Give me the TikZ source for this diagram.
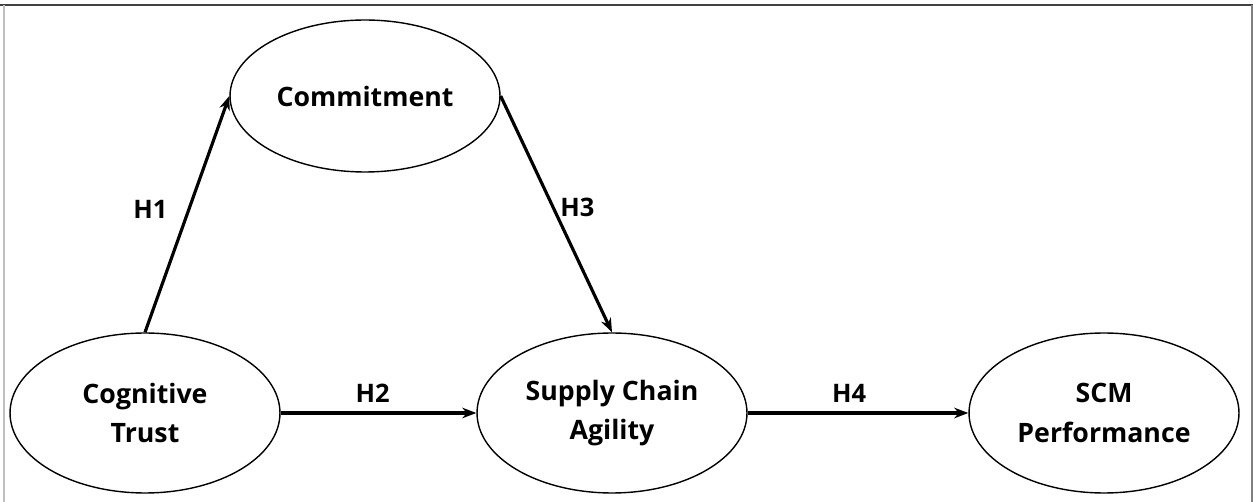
\documentclass[tikz,border=0pt]{standalone}
\usepackage{fontspec}
\setmainfont{Open Sans}
\usetikzlibrary{shapes.geometric,arrows.meta}

\tikzset{
  construct/.style={draw, ellipse, line width=0.8pt, inner sep=0pt,
    minimum width=5.4cm, minimum height=3.2cm, align=center,
    font=\fontsize{15.2}{22.5}\selectfont\bfseries},
  hyp/.style={line width=1.8pt, -{Stealth[length=8pt,width=6pt]}},
  hlabel/.style={font=\fontsize{14.5}{18}\selectfont\bfseries}
}

\begin{document}
\begin{tikzpicture}[x=0.02cm,y=-0.02cm]

        \useasboundingbox (0,0) rectangle (1253,502);

        %Frame
        \draw [line width=1.5pt, black!75] (0,5) -- (1253,5);
        \draw [line width=0.6pt, black!25] (4,5) -- (4,502);
        \draw [line width=1pt, black!50] (1252,5) -- (1252,502);

        %Constructs
        \node [construct, minimum height=3.04cm] (com) at (365,96) {Commitment};
        \node [construct] (ct) at (145,413) {Cognitive\\Trust};
        \node [construct] (sca) at (612,413) {Supply Chain\\Agility};
        \node [construct] (scm) at (1104,413) {SCM\\Performance};

        %Hypotheses
        \draw [hyp] (ct.north) -- node [hlabel, left=8pt, pos=0.52] {H1} (com.west);
        \draw [hyp] (com.east) -- node [hlabel, right=0pt, pos=0.47] {H3} (sca.north);
        \draw [hyp] (ct.east) -- node [hlabel, above=2pt, pos=0.47] {H2} (sca.west);
        \draw [hyp] (sca.east) -- node [hlabel, above=2pt, pos=0.46] {H4} (scm.west);

\end{tikzpicture}
\end{document}
